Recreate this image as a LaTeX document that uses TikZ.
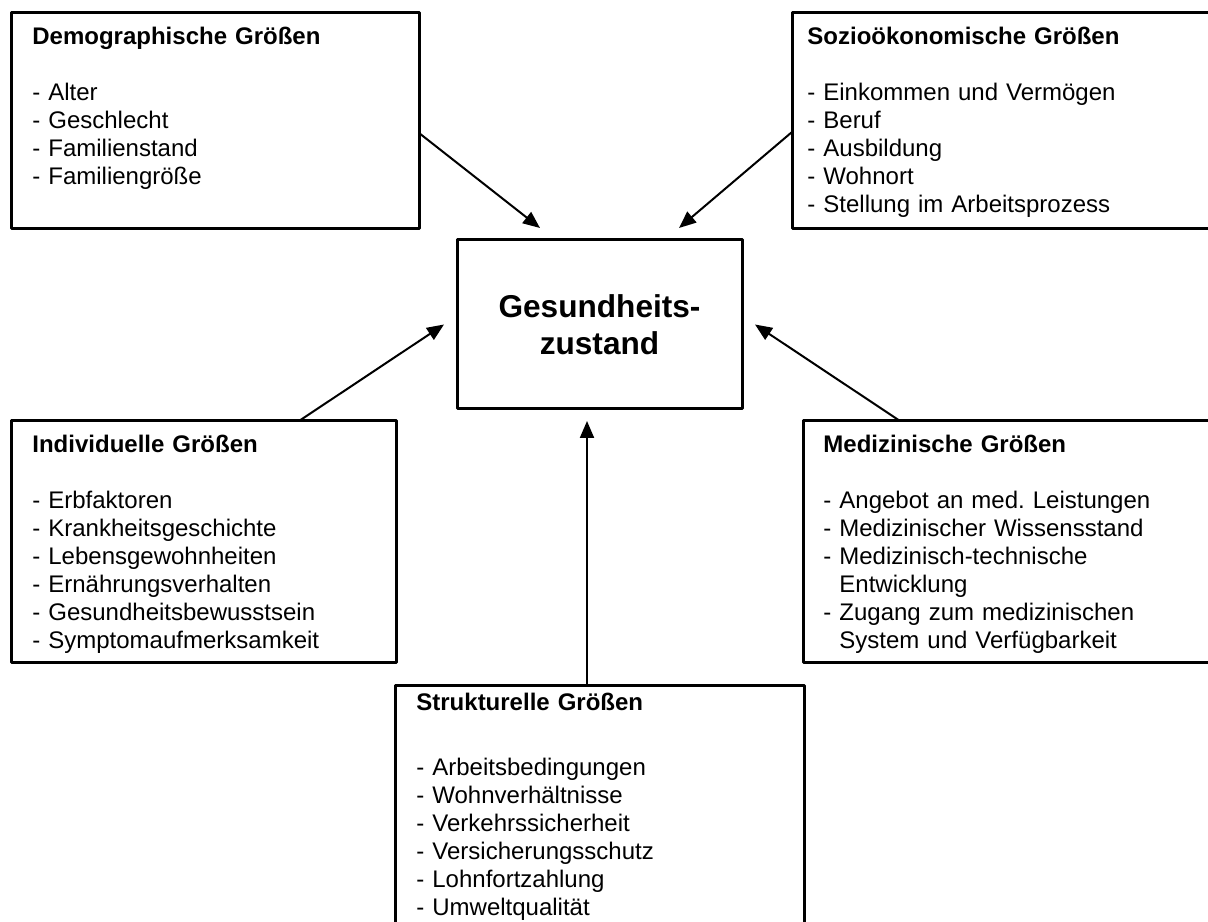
\documentclass[tikz,border=0pt]{standalone}
\usepackage{fontspec}
\setmainfont{Liberation Sans}
\usetikzlibrary{arrows.meta,calc}
\frenchspacing

\begin{document}
\begin{tikzpicture}[x=0.5pt, y=0.5pt, font=\fontsize{12}{14}\selectfont, line join=round, line cap=round, >={Triangle[length=8.5pt,width=7pt]},
  box/.style={draw, line width=1.5pt, inner sep=0pt, outer sep=0pt},
  txt/.style={anchor=base west, inner sep=0pt, text width=190pt, align=left},
  pfeil/.style={->, line width=1pt}]
\useasboundingbox (0,0) rectangle (1208,921);
\clip (0,0) rectangle (1208,921);
% the six boxes
\node[box, minimum width=204pt, minimum height=108pt] (D) at (215,800) {};
\node[box, minimum width=211.5pt, minimum height=108pt] (S) at (1003.5,800) {};
\node[box, minimum width=142.5pt, minimum height=84.5pt, align=center, font=\fontsize{15.8}{18.4}\selectfont\bfseries] (G) at (599.5,596.5) {Gesundheits-\\zustand};
\node[box, minimum width=192.5pt, minimum height=120.5pt] (I) at (203.5,379.5) {};
\node[box, minimum width=206pt, minimum height=120.5pt] (M) at (1009,379.5) {};
\node[box, minimum width=204.5pt, minimum height=122.5pt] (T) at (599.5,113.5) {};
% texts
\node[txt] (d) at ($(D.north west)+(21,-32)$) {\textbf{Demographische Größen}\\[14pt]- Alter\\- Geschlecht\\- Familienstand\\- Familiengröße};
\node[txt] (s) at ($(S.north west)+(15,-32)$) {\textbf{Sozioökonomische Größen}\\[14pt]- Einkommen und Vermögen\\- Beruf\\- Ausbildung\\- Wohnort\\- Stellung im Arbeitsprozess};
\node[txt] (i) at ($(I.north west)+(21,-32)$) {\textbf{Individuelle Größen}\\[14pt]- Erbfaktoren\\- Krankheitsgeschichte\\- Lebensgewohnheiten\\- Ernährungsverhalten\\- Gesundheitsbewusstsein\\- Symptomaufmerksamkeit};
\node[txt] (m) at ($(M.north west)+(20,-32)$) {\textbf{Medizinische Größen}\\[14pt]- Angebot an med. Leistungen\\- Medizinischer Wissensstand\\- Medizinisch-technische\\\hphantom{-}\ Entwicklung\\- Zugang zum medizinischen\\\hphantom{-}\ System und Verfügbarkeit};
\node[txt] (t) at ($(T.north west)+(21,-25)$) {\textbf{Strukturelle Größen}\\[18.5pt]- Arbeitsbedingungen\\- Wohnverhältnisse\\- Verkehrssicherheit\\- Versicherungsschutz\\- Lohnfortzahlung\\- Umweltqualität};
% arrows
\draw[pfeil] ($(D.east)+(0,-12)$) -- ($(G.north west)+(83,12)$);
\draw[pfeil] ($(S.west)+(0,-11)$) -- ($(G.north west)+(222,12)$);
\draw[pfeil] ($(I.north west)+(288,0)$) -- ($(G.west)+(-13,0)$);
\draw[pfeil] ($(M.north west)+(97,0)$) -- ($(G.east)+(13,0)$);
\draw[pfeil] ($(T.north)+(-12.5,0)$) -- ($(G.south)+(-12.5,-12)$);
\end{tikzpicture}
\end{document}
